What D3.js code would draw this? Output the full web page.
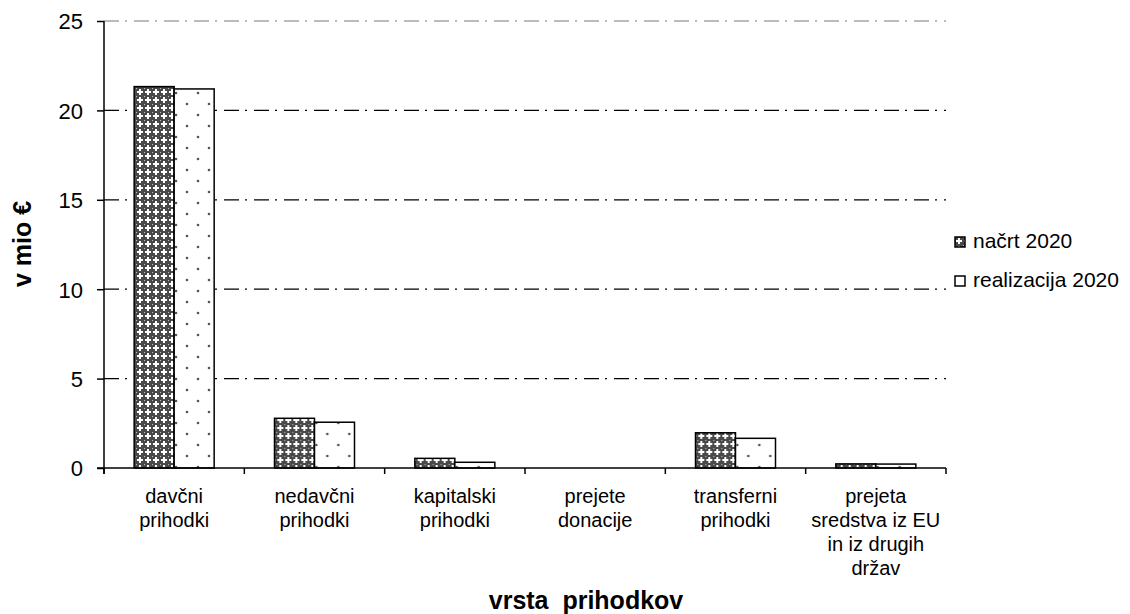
<!DOCTYPE html>
<html>
<head>
<meta charset="utf-8">
<script src="https://cdn.jsdelivr.net/npm/d3@7"></script>
<style>
  body { margin: 0; background: #fff; }
  text { font-family: "Liberation Sans", Arial, sans-serif; fill: #000; }
</style>
</head>
<body>
<svg id="chart" width="1130" height="614"></svg>
<script>
// data
var categories = [
  ["davčni", "prihodki"],
  ["nedavčni", "prihodki"],
  ["kapitalski", "prihodki"],
  ["prejete", "donacije"],
  ["transferni", "prihodki"],
  ["prejeta", "sredstva iz EU", "in iz drugih", "držav"]
];
var series = ["načrt 2020", "realizacija 2020"];
var nacrt = [21.33, 2.78, 0.54, 0, 1.97, 0.23];
var realizacija = [21.2, 2.56, 0.32, 0, 1.66, 0.22];
var yTicks = [0, 5, 10, 15, 20, 25];

var svg = d3.select("#chart");
var plotLeft = 104, plotRight = 946, plotTop = 21, plotBottom = 468;

// patterns
var defs = svg.append("defs");
var p1 = defs.append("pattern").attr("id", "hatch")
  .attr("patternUnits", "userSpaceOnUse").attr("width", 8).attr("height", 8);
p1.append("rect").attr("width", 8).attr("height", 8).attr("fill", "#4a4a4a");
p1.append("rect").attr("x", 3).attr("y", 1).attr("width", 2).attr("height", 6).attr("fill", "#fff");
p1.append("rect").attr("x", 1).attr("y", 3).attr("width", 6).attr("height", 2).attr("fill", "#fff");
p1.append("rect").attr("x", 0).attr("y", 0).attr("width", 1).attr("height", 1).attr("fill", "#bbb");

var p2 = defs.append("pattern").attr("id", "dots")
  .attr("patternUnits", "userSpaceOnUse").attr("width", 22).attr("height", 22);
p2.append("rect").attr("width", 22).attr("height", 22).attr("fill", "#fff");
p2.append("circle").attr("cx", 6).attr("cy", 5).attr("r", 1.3).attr("fill", "#555");
p2.append("circle").attr("cx", 17).attr("cy", 16).attr("r", 1.3).attr("fill", "#555");

var fills = ["url(#hatch)", "url(#dots)"];

var x = d3.scaleBand().domain(d3.range(categories.length)).range([plotLeft, plotRight]);
var bw = x.bandwidth();
var x1 = d3.scaleBand().domain(series).range([bw / 2 - 40, bw / 2 + 40]);
var y = d3.scaleLinear().domain([0, 25]).range([plotBottom, plotTop]);

// gridlines
svg.append("g").selectAll("line")
  .data(yTicks.filter(function(d) { return d > 0; }))
  .enter().append("line")
  .attr("x1", plotLeft).attr("x2", plotRight)
  .attr("y1", function(d) { return y(d); })
  .attr("y2", function(d) { return y(d); })
  .attr("stroke", function(d) { return d == 25 ? "#bbb" : "#000"; })
  .attr("stroke-width", function(d) { return d == 25 ? 2 : 1.3; })
  .attr("stroke-dasharray", "15,6,2,7");

// bars
var rows = categories.map(function(c, i) {
  return [{ s: series[0], v: nacrt[i], k: 0 }, { s: series[1], v: realizacija[i], k: 1 }];
});
var groups = svg.append("g").selectAll("g")
  .data(rows).enter().append("g")
  .attr("transform", function(d, i) { return "translate(" + x(i) + ",0)"; });
groups.selectAll("rect")
  .data(function(d) { return d.filter(function(e) { return e.v > 0; }); })
  .enter().append("rect")
  .attr("x", function(d) { return x1(d.s); })
  .attr("width", x1.bandwidth())
  .attr("y", function(d) { return y(d.v); })
  .attr("height", function(d) { return y(0) - y(d.v); })
  .attr("fill", function(d) { return fills[d.k]; })
  .attr("stroke", "#000")
  .attr("stroke-width", 1.5);

// y axis
var yAxis = svg.append("g").attr("transform", "translate(" + plotLeft + ",0)")
  .call(d3.axisLeft(y).tickValues(yTicks).tickSize(7).tickPadding(14));
yAxis.select(".domain").attr("d", "M0," + plotTop + "V" + (plotBottom + 6)).attr("stroke-width", 1.5);
yAxis.selectAll(".tick line").attr("stroke-width", 1.5);
yAxis.selectAll("text").style("font-size", "22px").attr("dy", "0.36em");

// x axis
var xAxis = svg.append("g").attr("transform", "translate(0," + plotBottom + ")");
xAxis.append("line").attr("x1", plotLeft - 7).attr("x2", plotRight)
  .attr("stroke", "#000").attr("stroke-width", 1.5);
xAxis.selectAll(".xt")
  .data(d3.range(categories.length + 1)).enter().append("line")
  .attr("x1", function(i) { return plotLeft + i * bw; })
  .attr("x2", function(i) { return plotLeft + i * bw; })
  .attr("y1", 0).attr("y2", 6)
  .attr("stroke", "#000").attr("stroke-width", 1.5);

svg.append("g").selectAll("text")
  .data(categories).enter().append("text")
  .attr("text-anchor", "middle")
  .attr("x", function(d, i) { return x(i) + bw / 2; })
  .attr("y", 503)
  .style("font-size", "20px")
  .selectAll("tspan")
  .data(function(d) { return d; }).enter().append("tspan")
  .attr("x", function() { return d3.select(this.parentNode).attr("x"); })
  .attr("dy", function(d, i) { return i == 0 ? 0 : 24; })
  .text(function(d) { return d; });

// axis titles
svg.append("text")
  .attr("x", 586).attr("y", 609)
  .attr("text-anchor", "middle")
  .style("font-size", "25px").style("font-weight", "bold")
  .style("white-space", "pre")
  .text("vrsta  prihodkov");
svg.append("text")
  .attr("transform", "translate(31,244) rotate(-90)")
  .attr("text-anchor", "middle")
  .style("font-size", "25px").style("font-weight", "bold")
  .text("v mio €");

// legend
var legend = svg.append("g").selectAll("g")
  .data(series).enter().append("g")
  .attr("transform", function(d, i) { return "translate(955," + (237 + i * 39) + ")"; });
legend.append("rect")
  .attr("width", 10).attr("height", 10)
  .attr("fill", function(d, i) { return i == 0 ? "url(#hatch)" : "#fff"; })
  .attr("stroke", "#000").attr("stroke-width", 1.5);
legend.append("text")
  .attr("x", 18).attr("y", 11)
  .style("font-size", "21px")
  .text(function(d) { return d; });
</script>
</body>
</html>
